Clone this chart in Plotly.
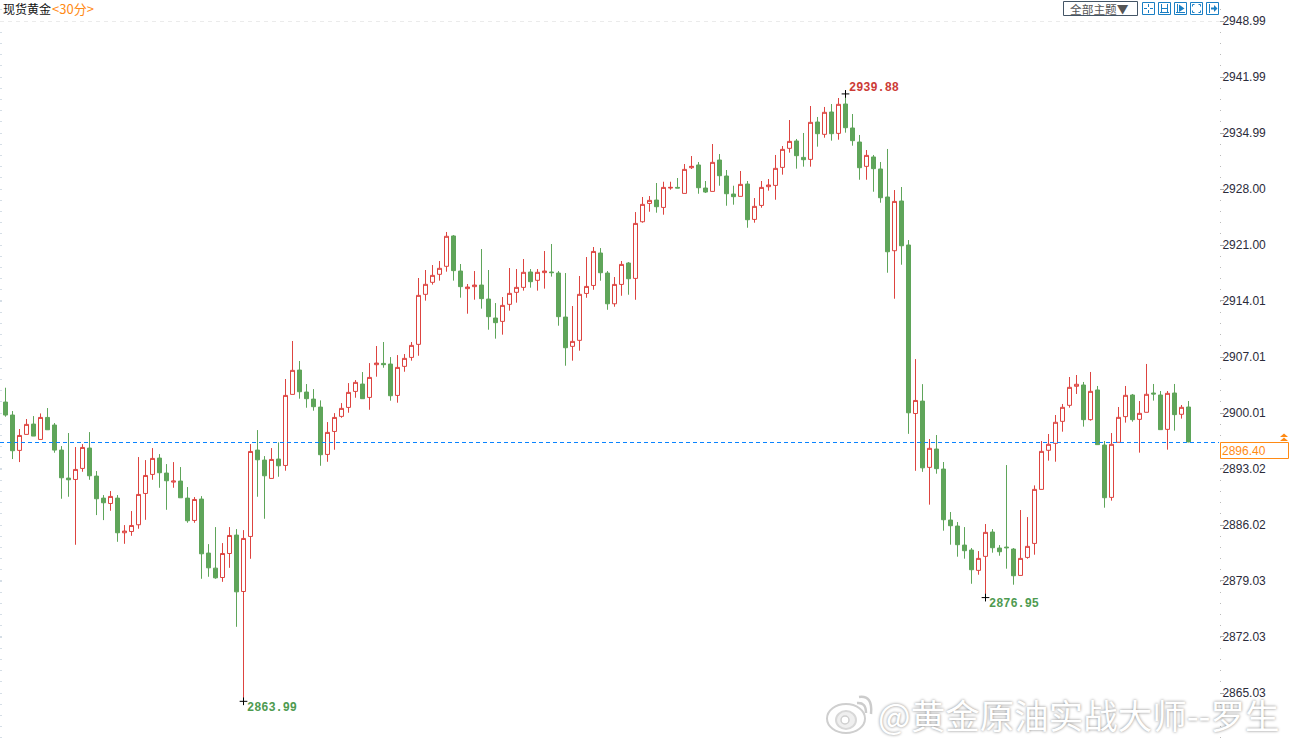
import plotly.graph_objects as go

opens = [2901.38,2899.76,2895.34,2897.34,2898.63,2896.71,2899.46,2898.51,2895.38,2891.88,
2891.71,2893.09,2895.63,2892.13,2889.38,2888.71,2889.38,2885.05,2885.21,2886.05,
2889.96,2892.34,2894.38,2892.51,2891.38,2891.51,2889.38,2886.59,2889.26,2882.51,
2880.63,2879.46,2882.46,2884.76,2877.71,2884.59,2895.38,2894.13,2891.84,2894.26,
2893.46,2902.34,2905.38,2902.63,2901.75,2900.75,2894.84,2897.71,2899.59,2900.71,
2902.71,2903.63,2901.96,2906.05,2906.21,2906.13,2902.21,2905.84,2906.96,2908.59,
2914.84,2916.34,2917.34,2918.34,2922.13,2917.75,2915.55,2915.80,2916.00,2914.25,
2911.88,2911.46,2913.59,2915.09,2915.71,2917.63,2916.59,2917.55,2917.63,2917.50,
2912.00,2908.34,2909.09,2914.95,2915.95,2920.00,2917.50,2913.66,2916.08,2918.75,
2916.83,2923.91,2926.20,2926.62,2925.70,2928.12,2928.20,2927.45,2930.66,2931.00,
2928.12,2927.70,2931.62,2929.62,2927.37,2927.08,2928.62,2924.20,2925.95,2928.29,
2928.45,2930.70,2933.08,2934.00,2931.95,2931.70,2936.37,2934.83,2937.62,2934.95,
2938.62,2935.62,2933.87,2930.83,2932.00,2930.50,2927.00,2920.29,2926.50,2921.00,
2899.95,2901.50,2893.22,2895.51,2893.01,2886.64,2885.89,2883.51,2882.89,2880.35,
2882.10,2885.14,2883.14,2883.26,2883.01,2879.72,2881.97,2883.72,2890.47,2895.35,
2896.22,2898.97,2900.97,2903.35,2903.51,2899.18,2902.89,2896.01,2889.47,2896.35,
2899.56,2902.26,2899.22,2900.10,2902.51,2902.26,2897.97,2902.51,2899.85,2900.76]

closes = [2899.76,2895.30,2897.21,2898.59,2897.13,2899.46,2897.92,2895.38,2891.92,2891.67,
2892.96,2895.71,2892.17,2889.30,2888.80,2889.59,2885.05,2885.26,2885.96,2889.84,
2892.21,2894.34,2892.55,2891.55,2891.51,2889.42,2886.55,2889.21,2882.42,2880.67,
2879.42,2882.46,2884.71,2877.67,2884.34,2895.21,2894.17,2892.17,2894.21,2893.42,
2902.21,2905.34,2902.67,2901.80,2900.80,2894.80,2897.59,2899.46,2900.59,2902.59,
2903.84,2901.80,2904.46,2906.25,2906.05,2902.17,2905.71,2906.84,2908.46,2914.71,
2916.09,2917.21,2918.09,2922.09,2917.80,2915.80,2915.75,2916.00,2914.30,2912.05,
2911.30,2913.46,2914.96,2915.71,2917.59,2916.42,2917.59,2917.75,2917.55,2912.05,
2908.17,2908.96,2914.84,2915.83,2920.20,2917.54,2913.66,2916.08,2918.58,2916.79,
2923.70,2926.08,2926.58,2925.79,2928.20,2928.20,2928.12,2930.45,2930.83,2928.16,
2927.62,2931.33,2929.66,2927.41,2927.04,2928.58,2924.16,2925.83,2928.20,2928.50,
2930.58,2932.95,2933.95,2932.16,2931.66,2936.33,2934.91,2937.58,2934.91,2938.58,
2935.66,2934.04,2930.66,2932.20,2930.54,2926.91,2920.16,2926.45,2920.91,2900.04,
2901.58,2893.16,2895.60,2893.06,2886.68,2885.93,2883.56,2882.81,2880.43,2881.85,
2885.10,2883.18,2882.68,2883.18,2879.68,2881.85,2883.35,2890.47,2895.22,2896.10,
2898.85,2900.72,2903.22,2903.60,2899.18,2902.72,2896.06,2889.43,2896.10,2899.47,
2902.22,2899.18,2899.97,2902.35,2902.39,2897.93,2902.47,2899.81,2900.72,2896.40]

highs = [2903.17,2900.26,2898.01,2899.26,2899.63,2899.96,2900.63,2898.76,2895.88,2897.51,
2895.76,2896.13,2897.63,2892.76,2889.76,2890.26,2889.76,2886.01,2887.76,2894.51,
2894.13,2895.63,2894.88,2893.63,2893.88,2893.26,2890.76,2889.51,2889.63,2883.63,
2885.76,2883.76,2885.76,2885.51,2885.38,2896.13,2897.88,2894.63,2895.63,2896.34,
2904.26,2909.01,2906.51,2903.63,2903.00,2901.59,2898.88,2900.00,2901.25,2903.75,
2904.13,2905.13,2906.25,2908.38,2908.88,2907.00,2907.25,2907.38,2908.88,2916.88,
2917.88,2918.50,2919.00,2922.63,2922.25,2918.63,2916.13,2917.75,2920.50,2917.88,
2913.75,2914.50,2918.13,2918.00,2919.25,2918.00,2918.00,2920.25,2921.13,2917.75,
2917.50,2913.38,2917.13,2919.50,2920.75,2920.62,2917.75,2917.00,2919.00,2918.87,
2925.12,2927.00,2927.12,2928.75,2928.91,2928.91,2929.37,2931.12,2932.12,2931.37,
2929.00,2933.62,2932.37,2930.37,2928.41,2930.25,2929.00,2926.87,2929.00,2929.25,
2932.25,2933.37,2936.62,2934.25,2935.00,2938.37,2937.00,2938.25,2938.62,2939.37,
2939.88,2937.37,2934.75,2932.87,2932.25,2931.37,2933.00,2927.87,2928.25,2921.62,
2906.75,2903.62,2896.76,2897.26,2893.89,2887.64,2886.39,2885.76,2883.14,2882.76,
2886.14,2885.51,2883.51,2893.51,2883.14,2887.89,2887.01,2890.97,2896.51,2897.39,
2899.76,2901.14,2904.51,2904.76,2903.89,2905.14,2903.39,2896.51,2897.51,2900.76,
2903.39,2902.39,2901.51,2906.14,2903.64,2902.76,2902.76,2903.64,2901.01,2901.51]

lows = [2899.55,2894.26,2893.88,2897.34,2897.13,2896.71,2897.92,2895.05,2889.30,2889.55,
2883.55,2892.67,2891.67,2887.26,2886.63,2887.80,2883.92,2883.67,2884.67,2885.55,
2886.67,2891.67,2890.67,2887.92,2890.67,2889.42,2886.30,2886.30,2879.30,2879.55,
2879.30,2878.92,2880.67,2873.30,2863.99,2881.80,2889.55,2886.80,2891.84,2892.05,
2892.80,2902.34,2901.80,2900.67,2900.30,2893.42,2893.92,2895.42,2899.42,2900.05,
2901.92,2901.80,2900.42,2904.55,2905.67,2901.55,2901.30,2905.17,2906.55,2907.17,
2914.05,2916.05,2916.55,2917.67,2916.55,2914.42,2912.42,2914.17,2913.05,2910.42,
2909.30,2909.80,2912.80,2913.80,2915.30,2915.67,2915.30,2915.55,2917.05,2910.92,
2905.92,2906.55,2907.80,2914.41,2915.41,2916.54,2912.91,2913.29,2914.66,2914.79,
2914.16,2923.79,2925.16,2925.04,2924.79,2927.91,2928.12,2927.45,2930.50,2927.41,
2927.50,2927.70,2928.41,2925.91,2926.04,2927.08,2923.16,2923.79,2925.66,2927.79,
2926.66,2929.79,2932.54,2930.54,2930.79,2930.79,2933.29,2934.41,2934.04,2934.16,
2935.04,2933.41,2929.16,2929.16,2927.66,2926.29,2917.54,2914.29,2918.54,2897.41,
2892.79,2892.66,2888.56,2892.43,2885.31,2883.56,2882.06,2881.81,2878.68,2879.81,
2876.95,2882.56,2882.18,2880.56,2878.56,2879.72,2881.81,2882.31,2890.47,2894.06,
2893.93,2897.68,2900.68,2902.39,2898.31,2899.06,2896.06,2888.18,2889.06,2896.35,
2898.81,2898.93,2895.06,2900.10,2901.56,2897.93,2895.43,2897.81,2899.31,2896.35]

tick_values = [2948.99,2941.99,2934.99,2928.00,2921.00,2914.01,2907.01,2900.01,2893.02,2886.02,2879.03,2872.03,2865.03]
tick_labels = ["2948.99","2941.99","2934.99","2928.00","2921.00","2914.01","2907.01","2900.01","2893.02","2886.02","2879.03","2872.03","2865.03"]
last_price = 2896.40
extreme_idx = [34, 120, 140]
extreme_val = [2863.99, 2939.88, 2876.95]
title_name = "现货黄金"
title_period = "&lt;30分&gt;"
watermark = "@黄金原油实战大师--罗生"
theme_button = "全部主题▼"

W, H = 1291, 745
PLOT_R = 1219
RED, GREEN = "#DD4440", "#5FA55A"
RED_TXT, GREEN_TXT = "#CC3B36", "#4E9A50"
ORANGE = "#FF8A14"
BLUE = "#0A84FF"
ICON = "#1A7FC4"
CJK = "Noto Sans CJK SC"

def px(x):
    return x / W
def py(y):
    return 1 - y / H

# price scale: 2948.99 sits 21 px from the top and 2865.03 sits 693 px from the top
per_px = (2948.99 - 2865.03) / (693 - 21)
y_top = 2948.99 + 21 * per_px
y_bot = y_top - H * per_px
x_idx = list(range(len(opens)))

fig = go.Figure()
fig.add_trace(go.Candlestick(
    x=x_idx, open=opens, high=highs, low=lows, close=closes,
    increasing=dict(line=dict(color=RED, width=1), fillcolor="#FFFFFF"),
    decreasing=dict(line=dict(color=GREEN, width=1), fillcolor=GREEN),
    whiskerwidth=0, showlegend=False, hoverinfo="skip",
))
fig.add_trace(go.Scatter(
    x=extreme_idx, y=extreme_val, mode="markers",
    marker=dict(symbol="cross-thin", size=5.5, line=dict(color="#000000", width=1)),
    showlegend=False, hoverinfo="skip",
))
fig.add_trace(go.Scatter(
    x=[0], y=[last_price], yaxis="y2", mode="markers",
    marker=dict(opacity=0, size=1), showlegend=False, hoverinfo="skip",
))

def ann(text, x, y, color, size, family, anchor="left"):
    fig.add_annotation(text=text, xref="paper", yref="paper", x=px(x), y=py(y),
                       xanchor=anchor, yanchor="middle", showarrow=False,
                       font=dict(color=color, size=size, family=family), borderpad=0)

# titles
ann(title_name, 2, 8.5, "#111111", 12, CJK)
ann(title_period, 51, 8.5, ORANGE, 13, CJK)

# extreme labels
mono = "Liberation Mono"
for i, v, c, lx, ly in zip(extreme_idx, extreme_val, [GREEN_TXT, RED_TXT, GREEN_TXT], [245, 847, 987], [707.5, 88, 604]):
    fig.add_annotation(text=f"<b>{v:.2f}</b>", xref="paper", yref="paper", x=px(lx), y=py(ly),
                       xanchor="left", yanchor="middle", showarrow=False,
                       font=dict(color=c, size=11.9, family=mono))

# last price tag
ann(f"{last_price:.2f}", 1221, 451, ORANGE, 12, "Liberation Sans")

# button
ann(theme_button, 1069, 8, "#555555", 11.7, CJK)

# watermark
fig.add_annotation(text=watermark, xref="paper", yref="paper", x=px(876), y=py(713.5),
                   xanchor="left", yanchor="middle", showarrow=False,
                   font=dict(color="#FFFFFF", size=34.5, family=CJK,
                             shadow="0px 0px 3px #808080"))

shapes = []
def rect(x0, y0, x1, y1, line, fill=None, w=1):
    shapes.append(dict(type="rect", xref="paper", yref="paper", x0=px(x0), x1=px(x1),
                       y0=py(y0), y1=py(y1), line=dict(color=line, width=w),
                       fillcolor=fill if fill else "rgba(0,0,0,0)"))
def seg(x0, y0, x1, y1, color, w=1, dash=None):
    shapes.append(dict(type="line", xref="paper", yref="paper", x0=px(x0), x1=px(x1),
                       y0=py(y0), y1=py(y1), line=dict(color=color, width=w, dash=dash)))
def tri(pts, color):
    d = "M " + " L ".join(f"{px(a):.5f},{py(b):.5f}" for a, b in pts) + " Z"
    shapes.append(dict(type="path", xref="paper", yref="paper", path=d,
                       line=dict(color=color, width=0), fillcolor=color))
def ell(x0, y0, x1, y1, line, fill=None, w=1):
    shapes.append(dict(type="circle", xref="paper", yref="paper", x0=px(x0), x1=px(x1),
                       y0=py(y0), y1=py(y1), line=dict(color=line, width=w),
                       fillcolor=fill if fill else "rgba(0,0,0,0)"))

# top dashed line and last price line
seg(0, 21.5, 1222, 21.5, "#EBEBEB", 1, "4px,4px")
seg(0, 442.5, PLOT_R, 442.5, BLUE, 1, "4px,3px")
# last price box and arrows
rect(1220.5, 442.5, 1288.5, 458.5, ORANGE, "rgba(255,255,255,0)")
tri([(1280, 437), (1284, 433.5), (1288, 437)], ORANGE)
tri([(1280, 441), (1284, 437.5), (1288, 441)], ORANGE)

# toolbar
rect(1063.5, 1.5, 1137.5, 15.5, "#445566", None, 1)
boxes = [1142, 1158, 1174, 1190, 1206]
for b in boxes:
    rect(b + .5, 2.5, b + 12.5, 14.5, ICON)
b = boxes[0]
seg(b + 6.5, 4, b + 6.5, 7, ICON); seg(b + 6.5, 10, b + 6.5, 13, ICON)
seg(b + 2, 8.5, b + 5, 8.5, ICON); seg(b + 8, 8.5, b + 11, 8.5, ICON)
b = boxes[1]
seg(b + 3.5, 4, b + 3.5, 12, ICON); seg(b + 9.5, 4, b + 9.5, 12, ICON)
seg(b + 3, 8.5, b + 10, 8.5, ICON); seg(b + 2, 12.5, b + 11, 12.5, ICON)
b = boxes[2]
seg(b + 3.5, 4, b + 3.5, 12, ICON); seg(b + 2, 12.5, b + 11, 12.5, ICON)
tri([(b + 5, 4.5), (b + 10.5, 8.5), (b + 5, 12)], ICON)
b = boxes[3]
for (cx, cy, dx, dy) in [(2.5, 4.5, 1, 1), (10.5, 4.5, -1, 1), (2.5, 12.5, 1, -1), (10.5, 12.5, -1, -1)]:
    seg(b + cx, cy, b + cx + 2 * dx, cy, ICON)
    seg(b + cx, cy, b + cx, cy + 2 * dy, ICON)
b = boxes[4]
seg(b + 3.5, 4, b + 3.5, 13, ICON); seg(b + 5, 8.5, b + 8, 8.5, ICON, 2)
tri([(b + 8, 5), (b + 11.5, 8.5), (b + 8, 12)], ICON)

# watermark logo
ell(827, 704, 865, 733, "#CFCFCF", "#FFFFFF", 2)
ell(836, 711, 856, 729, "#D8D8D8", "#EFEFEF", 2)
ell(841, 716, 849, 724, "#CFCFCF", "#FFFFFF", 1.5)
shapes.append(dict(type="path", xref="paper", yref="paper",
                   path=f"M {px(857)},{py(703)} Q {px(866)},{py(702)} {px(866)},{py(713)}",
                   line=dict(color="#CCCCCC", width=2.5)))
shapes.append(dict(type="path", xref="paper", yref="paper",
                   path=f"M {px(859)},{py(697)} Q {px(873)},{py(695)} {px(871)},{py(714)}",
                   line=dict(color="#CCCCCC", width=2.5)))

fig.update_layout(
    width=W, height=H, autosize=False,
    margin=dict(l=0, r=0, t=0, b=0, pad=0),
    paper_bgcolor="#FFFFFF", plot_bgcolor="#FFFFFF",
    showlegend=False, boxgap=3 / 7, boxgroupgap=0,
    xaxis=dict(domain=[0, PLOT_R / W], range=[-5.5 / 7, (PLOT_R - 5.5) / 7],
               visible=False, rangeslider=dict(visible=False), fixedrange=True),
    yaxis=dict(side="right", range=[y_bot, y_top], showgrid=False, zeroline=False,
               showline=False, tickmode="array", tickvals=tick_values, ticktext=tick_labels,
               ticks="outside", ticklen=4, tickcolor="#AAAAAA", tickwidth=1,
               tickfont=dict(family="Liberation Sans", size=12, color="#2B2B3A"),
               ticklabelstandoff=-4,
               minor=dict(tick0=2865.03, dtick=1.399, ticks="outside", ticklen=1,
                          tickcolor="#BBBBBB", tickwidth=1, showgrid=False),
               fixedrange=True),
    yaxis2=dict(overlaying="y", side="left", range=[y_bot, y_top], anchor="x",
                showgrid=False, zeroline=False, showticklabels=False, showline=False,
                tickmode="array", tickvals=tick_values, ticks="inside", ticklen=2,
                tickcolor="#D5DEE6", tickwidth=1,
                minor=dict(tick0=2865.03, dtick=1.399, ticks="inside", ticklen=2,
                           tickcolor="#D5DEE6", tickwidth=1, showgrid=False),
                fixedrange=True),
    shapes=shapes,
)

fig.write_html("out.html", config=dict(displayModeBar=False),
               post_script="document.body.style.margin='0';document.body.style.overflow='hidden';")
